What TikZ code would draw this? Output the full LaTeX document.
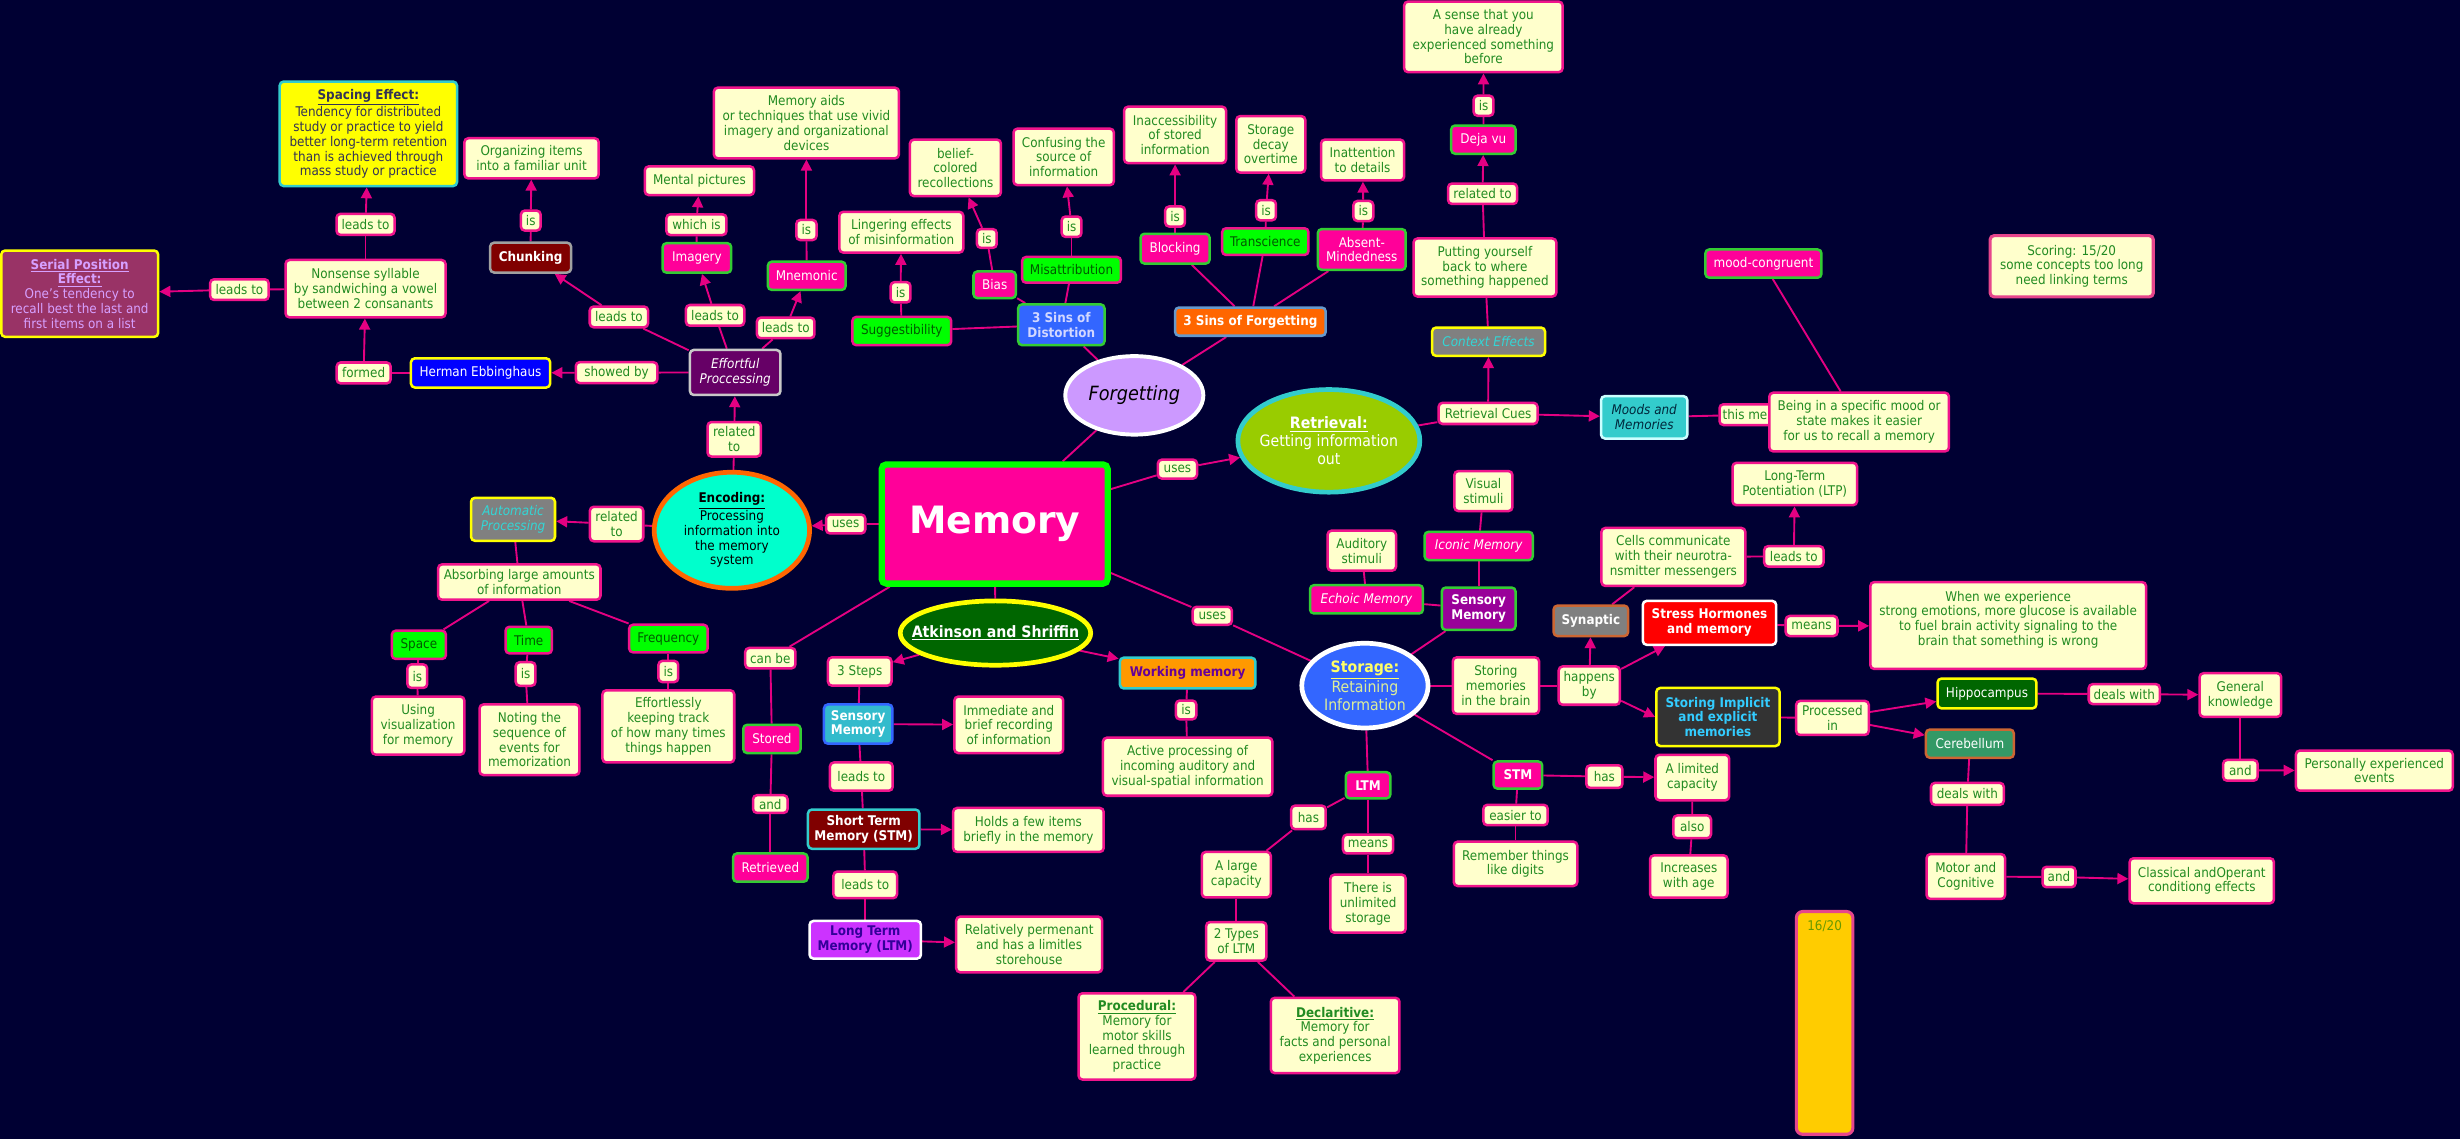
\documentclass[tikz,border=0pt]{standalone}
\usepackage{fontspec}
\IfFontExistsTF{DejaVu Sans Condensed}{\setmainfont{DejaVu Sans Condensed}}{\setmainfont[FakeStretch=0.9]{DejaVu Sans}}
\newfontfamily\memfont{DejaVu Sans}
\usetikzlibrary{shapes.geometric,arrows.meta}
\definecolor{bgc}{RGB}{0,0,51}
\definecolor{pinkc}{RGB}{255,0,153}
\definecolor{lnc}{RGB}{228,0,130}
\definecolor{pinkb}{RGB}{240,20,140}
\definecolor{creamc}{RGB}{255,255,204}
\definecolor{txtg}{RGB}{34,139,34}
\definecolor{brdg}{RGB}{51,204,51}
\definecolor{limec}{RGB}{0,255,0}
\definecolor{dkg}{RGB}{0,90,0}
\definecolor{yellowc}{RGB}{255,255,0}
\definecolor{cyanb}{RGB}{51,204,204}
\definecolor{slate}{RGB}{51,51,85}
\definecolor{serialc}{RGB}{153,51,102}
\definecolor{lpurp}{RGB}{214,160,255}
\definecolor{purpc}{RGB}{102,0,102}
\definecolor{lgray}{RGB}{200,200,200}
\definecolor{maroonc}{RGB}{128,0,0}
\definecolor{grayb}{RGB}{160,160,160}
\definecolor{bluec}{RGB}{51,102,255}
\definecolor{lblue}{RGB}{210,215,255}
\definecolor{orangec}{RGB}{255,102,0}
\definecolor{sblue}{RGB}{102,153,204}
\definecolor{lavc}{RGB}{204,153,255}
\definecolor{retc}{RGB}{153,204,0}
\definecolor{grayc}{RGB}{128,128,128}
\definecolor{cyanc}{RGB}{51,214,214}
\definecolor{tealc}{RGB}{51,204,204}
\definecolor{lcyan}{RGB}{204,255,255}
\definecolor{dteal}{RGB}{0,40,60}
\definecolor{aquac}{RGB}{0,255,204}
\definecolor{dkgreenc}{RGB}{0,102,0}
\definecolor{sensc}{RGB}{51,187,204}
\definecolor{violc}{RGB}{204,51,255}
\definecolor{dblue}{RGB}{51,0,153}
\definecolor{orange2}{RGB}{255,153,0}
\definecolor{purptext}{RGB}{102,0,153}
\definecolor{storetxt}{RGB}{221,238,153}
\definecolor{yellow2}{RGB}{255,255,102}
\definecolor{purp2}{RGB}{153,0,153}
\definecolor{orangeb}{RGB}{204,102,51}
\definecolor{redc}{RGB}{255,0,0}
\definecolor{dgray}{RGB}{51,51,51}
\definecolor{cyan2}{RGB}{51,204,255}
\definecolor{cerc}{RGB}{51,153,102}
\definecolor{goldc}{RGB}{255,204,0}
\definecolor{softpink}{RGB}{230,70,140}
\definecolor{olivec}{RGB}{102,153,0}
\newcommand\myfs{\fontsize{8.5pt}{9.4pt}\selectfont}
\pgfdeclarelayer{bgl}
\pgfdeclarelayer{edgel}
\pgfsetlayers{bgl,edgel,main}
\tikzset{
 nb/.style={rounded corners=2.5pt, line width=1.6pt, align=center, inner sep=1pt, font=\myfs},
 cb/.style={nb, draw=pinkb, fill=creamc, text=txtg},
 pk/.style={nb, draw=brdg, fill=pinkc, text=white},
 gr/.style={nb, draw=pinkb, fill=limec, text=dkg},
 sz/.style 2 args={minimum width=#1pt, minimum height=#2pt},
 ln/.style={draw=lnc, line width=1.2pt},
 ar/.style={ln, -{Triangle[length=7pt,width=7pt]}},
}
\begin{document}
\begin{tikzpicture}[x=1pt,y=-1pt]
\begin{pgfonlayer}{bgl}
\fill[bgc] (0,0) rectangle (1568,726);
\end{pgfonlayer}
\useasboundingbox (0,0) rectangle (1568,726);

% ---------- top left ----------
\node[nb,sz={113}{66.6},fill=yellowc,draw=cyanb,text=slate] (spacing) at (234.8,85.3) {\underline{\textbf{Spacing Effect:}}\\Tendency for distributed\\study or practice to yield\\better long-term retention\\than is achieved through\\mass study or practice};
\node[cb,sz={37}{13.4}] (lt1) at (233,143) {leads to};
\node[cb,sz={102}{36.6}] (nons) at (233,184) {Nonsense syllable\\by sandwiching a vowel\\between 2 consanants};
\node[nb,sz={100}{55},fill=serialc,draw=yellowc,text=lpurp] (serial) at (50.8,187.2) {\underline{\textbf{Serial Position}}\\\underline{\textbf{Effect:}}\\One's tendency to\\recall best the last and\\first items on a list};
\node[cb,sz={37.3}{13.2}] (lt2) at (152.6,184.6) {leads to};
\node[cb,sz={34.4}{13.3}] (formed) at (231.8,237.7) {formed};
\node[nb,sz={88.7}{18.6},fill=blue,draw=yellowc,text=white] (herman) at (306.3,237.7) {Herman Ebbinghaus};
\node[cb,sz={52}{13.3}] (showed) at (393,237.5) {showed by};
\node[nb,sz={57.7}{28.7},fill=purpc,draw=lgray,text=white,font=\myfs\itshape] (effort) at (468.6,237.4) {Effortful\\Proccessing};
\node[nb,sz={51.6}{19},fill=maroonc,draw=grayb,text=white,font=\myfs\bfseries] (chunk) at (338.2,164.2) {Chunking};
\node[cb,sz={12.6}{12.7}] (is1) at (338.3,140.6) {is};
\node[cb,sz={85.6}{25.6}] (organ) at (338.8,100.9) {Organizing items\\into a familiar unit};
\node[cb,sz={37.2}{13.2}] (lt3) at (394.5,202) {leads to};
\node[pk,sz={43.7}{18.8}] (imag) at (444.2,164.4) {Imagery};
\node[cb,sz={38.3}{13.2}] (which) at (443.9,143.2) {which is};
\node[cb,sz={69.6}{18.3}] (mental) at (445.8,115.2) {Mental pictures};
\node[cb,sz={37.2}{13.2}] (lt4) at (455.8,201) {leads to};
\node[pk,sz={49.5}{18}] (mnem) at (514.2,175.8) {Mnemonic};
\node[cb,sz={36.7}{13.1}] (lt5) at (500.8,209) {leads to};
\node[cb,sz={12.9}{12.8}] (is2) at (514,146.6) {is};
\node[cb,sz={118}{45}] (aids) at (514,78.4) {Memory aids\\or techniques that use vivid\\imagery and organizational\\devices};

% ---------- forgetting ----------
\node[gr,sz={63}{18}] (sugg) at (574.8,211) {Suggestibility};
\node[cb,sz={12.6}{13}] (is3) at (574,186.3) {is};
\node[cb,sz={79}{26}] (ling) at (574.5,148) {Lingering effects\\of misinformation};
\node[pk,sz={27}{17}] (bias) at (634,181.5) {Bias};
\node[cb,sz={12.6}{12}] (is4) at (629,152) {is};
\node[cb,sz={58}{36}] (belief) at (609,107) {belief-\\colored\\recollections};
\node[gr,sz={63}{16.4}] (misat) at (683,172) {Misattribution};
\node[cb,sz={12.6}{13}] (is5) at (683,144.5) {is};
\node[cb,sz={64}{36}] (confus) at (678,100) {Confusing the\\source of\\information};
\node[nb,sz={55}{26},fill=bluec,draw=brdg,text=lblue,font=\myfs\bfseries] (dist) at (676.5,207) {3 Sins of\\Distortion};
\node[pk,sz={44}{19}] (block) at (749,158.5) {Blocking};
\node[cb,sz={12.6}{12.8}] (is6) at (749,138) {is};
\node[cb,sz={65}{36}] (inacc) at (749,86) {Inaccessibility\\of stored\\information};
\node[gr,sz={55}{17}] (trans) at (806.5,154) {Transcience};
\node[cb,sz={12.6}{12.8}] (is7) at (807,134) {is};
\node[cb,sz={44}{36}] (decay) at (810,92) {Storage\\decay\\overtime};
\node[pk,sz={56}{26}] (absent) at (868,159) {Absent-\\Mindedness};
\node[cb,sz={12.6}{12.8}] (is8) at (869,134.5) {is};
\node[cb,sz={53}{26}] (inatt) at (868.5,102) {Inattention\\to details};
\node[nb,sz={96}{18},fill=orangec,draw=sblue,text=white,font=\myfs\bfseries] (sinf) at (797,205) {3 Sins of Forgetting};
\node[nb,ellipse,sz={88}{50},inner xsep=-4pt,fill=lavc,draw=white,line width=2.5pt,text=black,font=\fontsize{12.5pt}{14pt}\selectfont\itshape] (forg) at (723,252) {Forgetting};

% ---------- retrieval ----------
\node[nb,ellipse,sz={116}{65.4},inner xsep=-5pt,inner ysep=0pt,fill=retc,draw=cyanb,line width=3pt,text=white,font=\fontsize{10pt}{11.5pt}\selectfont] (retr) at (847,281) {\underline{\textbf{Retrieval:}}\\Getting information\\out};
\node[cb,sz={25}{12}] (uses1) at (750.5,299) {uses};
\node[cb,sz={63}{13.5}] (cues) at (948.5,263.5) {Retrieval Cues};
\node[nb,sz={72}{18},fill=grayc,draw=yellowc,text=cyanc,font=\myfs\itshape] (context) at (948.8,217.8) {Context Effects};
\node[cb,sz={91}{37}] (putting) at (946.5,170.5) {Putting yourself\\back to where\\something happened};
\node[cb,sz={44}{13}] (rel1) at (945,123.5) {related to};
\node[pk,sz={41}{18}] (deja) at (945.5,89) {Deja vu};
\node[cb,sz={12.6}{12.8}] (is9) at (945.6,67.4) {is};
\node[cb,sz={101}{45}] (sense) at (945.5,23.5) {A sense that you\\have already\\experienced something\\before};
\node[nb,sz={55}{27},fill=tealc,draw=lcyan,text=dteal,font=\myfs\itshape] (moods) at (1048,266) {Moods and\\Memories};
\node[cb,sz={46}{13.2}] (thism) at (1119,264.3) {this means};
\node[cb,sz={114.5}{37.4}] (being) at (1185,269) {Being in a specific mood or\\state makes it easier\\for us to recall a memory};
\node[pk,sz={74}{18}] (moodc) at (1124,168) {mood-congruent};
\node[cb,sz={79.4}{27}] (ltp) at (1144,308.5) {Long-Term\\Potentiation (LTP)};
\node[nb,sz={104}{39},fill=creamc,draw=softpink,text=txtg,line width=2pt] (score) at (1320.5,169.7) {Scoring: 15/20\\some concepts too long\\need linking terms};

% ---------- memory + encoding ----------
\node[nb,sz={144}{76},fill=pinkc,draw=limec,line width=4pt,rounded corners=3pt,text=white,font={\memfont\fontsize{24pt}{26pt}\selectfont\bfseries}] (mem) at (634,334) {Memory};
\node[nb,ellipse,sz={99}{74},fill=aquac,draw=orangec,line width=3pt,text=black] (enc) at (466.5,338) {\underline{\textbf{Encoding:}}\\Processing\\information into\\the memory\\system};
\node[cb,sz={25}{12}] (uses2) at (539,334) {uses};
\node[cb,sz={34}{22}] (rel2) at (393,334) {related\\to};
\node[cb,sz={34}{22}] (rel3) at (468,280) {related\\to};
\node[nb,sz={53.5}{27.4},fill=grayc,draw=yellowc,text=cyanc,font=\myfs\itshape] (auto) at (327,331) {Automatic\\Processing};
\node[cb,sz={103.5}{22.5}] (absorb) at (331,371) {Absorbing large amounts\\of information};
\node[gr,sz={34.5}{18}] (space) at (267,411) {Space};
\node[cb,sz={12.6}{15}] (is10) at (266,431) {is};
\node[cb,sz={59}{37}] (usingv) at (266.5,462.5) {Using\\visualization\\for memory};
\node[gr,sz={29.5}{17}] (time) at (337,408) {Time};
\node[cb,sz={12.6}{15}] (is11) at (335,429.6) {is};
\node[cb,sz={63.7}{45}] (noting) at (337.5,471.5) {Noting the\\sequence of\\events for\\memorization};
\node[gr,sz={50}{17.6}] (freq) at (426,407) {Frequency};
\node[cb,sz={12.6}{13.5}] (is12) at (426,428) {is};
\node[cb,sz={84}{46}] (effl) at (426,463) {Effortlessly\\keeping track\\of how many times\\things happen};

% ---------- Atkinson ----------
\node[cb,sz={32}{13}] (canbe) at (491,419.5) {can be};
\node[pk,sz={36.5}{18}] (stored) at (492,471) {Stored};
\node[cb,sz={22}{11.3}] (and1) at (491,512.5) {and};
\node[pk,sz={47.5}{18}] (retrv) at (491,553) {Retrieved};
\node[nb,ellipse,sz={121.4}{41},inner xsep=-12pt,inner ysep=0pt,fill=dkgreenc,draw=yellowc,line width=3pt,text=white,font=\fontsize{10pt}{12pt}\selectfont\bfseries] (atk) at (634.5,403.5) {\underline{Atkinson and Shriffin}};
\node[cb,sz={40.5}{18}] (steps) at (548,428) {3 Steps};
\node[nb,sz={43.6}{25},fill=sensc,draw=bluec,text=white,font=\myfs\bfseries] (sensA) at (547,461.5) {Sensory\\Memory};
\node[cb,sz={69.4}{36}] (immed) at (643,462) {Immediate and\\brief recording\\of information};
\node[cb,sz={40}{18}] (lt6) at (549,495) {leads to};
\node[nb,sz={71}{25},fill=maroonc,draw=cyanb,text=white,font=\myfs\bfseries] (stmA) at (550.5,528.5) {Short Term\\Memory (STM)};
\node[cb,sz={96}{28}] (holds) at (655.5,529) {Holds a few items\\briefly in the memory};
\node[cb,sz={40.5}{17}] (lt7) at (551.5,564) {leads to};
\node[nb,sz={71}{24},fill=violc,draw=white,text=dblue,font=\myfs\bfseries] (ltmA) at (551.5,599) {Long Term\\Memory (LTM)};
\node[cb,sz={93}{35.5}] (relperm) at (656,602) {Relatively permenant\\and has a limitles\\storehouse};
\node[nb,sz={86.4}{19.6},fill=orange2,draw=cyanb,text=purptext,font=\myfs\bfseries] (work) at (757,429) {Working memory};
\node[cb,sz={13}{12}] (is13) at (756,452.5) {is};
\node[cb,sz={108}{37}] (active) at (757,488.7) {Active processing of\\incoming auditory and\\visual-spatial information};

% ---------- storage ----------
\node[cb,sz={25}{11.5}] (uses3) at (772.7,392.5) {uses};
\node[nb,ellipse,sz={80.5}{54},inner xsep=-2pt,inner ysep=0pt,fill=bluec,draw=white,line width=3pt,text=storetxt,font=\fontsize{10pt}{11.5pt}\selectfont] (stor) at (870,437) {{\color{yellow2}\underline{\textbf{Storage:}}}\\Retaining\\Information};
\node[pk,sz={28.4}{16.7},font=\myfs\bfseries] (ltmS) at (872,500.5) {LTM};
\node[cb,sz={22}{15}] (has1) at (834,521) {has};
\node[cb,sz={32}{12}] (means1) at (872,538) {means};
\node[cb,sz={48}{37}] (unlim) at (872,576) {There is\\unlimited\\storage};
\node[cb,sz={44}{29}] (large) at (788,557.5) {A large\\capacity};
\node[cb,sz={38.4}{24.6}] (types) at (788,600) {2 Types\\of LTM};
\node[cb,sz={74.5}{55}] (proc) at (724.7,660.6) {\underline{\textbf{Procedural:}}\\Memory for\\motor skills\\learned through\\practice};
\node[cb,sz={82}{48}] (decl) at (851,660) {\underline{\textbf{Declaritive:}}\\Memory for\\facts and personal\\experiences};
\node[pk,sz={31}{17.3},font=\myfs\bfseries] (stmS) at (967.5,494) {STM};
\node[cb,sz={23}{14.4}] (has2) at (1022.6,495) {has};
\node[cb,sz={47}{29}] (limit) at (1078.7,495.6) {A limited\\capacity};
\node[cb,sz={24}{14.5}] (also) at (1078.6,527) {also};
\node[cb,sz={49.4}{27}] (incr) at (1076.4,558.7) {Increases\\with age};
\node[cb,sz={41}{13}] (easier) at (966,519.5) {easier to};
\node[cb,sz={78.7}{28.3}] (remem) at (966,550.6) {Remember things\\like digits};
\node[nb,sz={47}{27},fill=purp2,draw=brdg,text=white,font=\myfs\bfseries] (sensS) at (942.5,388) {Sensory\\Memory};
\node[pk,sz={72}{18},font=\myfs\itshape] (echo) at (871,382) {Echoic Memory};
\node[pk,sz={69}{18},font=\myfs\itshape] (icon) at (942.5,348) {Iconic Memory};
\node[cb,sz={43.6}{25.5}] (audit) at (868,351) {Auditory\\stimuli};
\node[cb,sz={37}{25.5}] (visual) at (945.5,313) {Visual\\stimuli};
\node[cb,sz={55}{36}] (storing) at (953.5,437) {Storing\\memories\\in the brain};
\node[cb,sz={39}{24.4}] (happ) at (1013,437) {happens\\by};
\node[nb,sz={47.5}{19.4},fill=grayc,draw=orangeb,text=white,font=\myfs\bfseries] (syn) at (1014,395.7) {Synaptic};
\node[cb,sz={91.7}{37}] (cells) at (1066.6,355) {Cells communicate\\with their neurotra-\\nsmitter messengers};
\node[cb,sz={37.8}{13}] (lt8) at (1143.4,354.6) {leads to};
\node[nb,sz={85}{28},fill=redc,draw=white,text=white,font=\myfs\bfseries] (stress) at (1089.6,397) {Stress Hormones\\and memory};
\node[cb,sz={33}{12.8}] (means2) at (1154.7,399) {means};
\node[cb,sz={175.7}{55.4}] (when) at (1280,398.7) {When we experience\\strong emotions, more glucose is available\\to fuel brain activity signaling to the\\brain that something is wrong\\\mbox{}};
\node[nb,sz={78.5}{37},fill=dgray,draw=yellowc,text=cyan2,font=\myfs\bfseries] (impl) at (1095,457) {Storing Implicit\\and explicit\\memories};
\node[cb,sz={46.3}{21.7}] (procin) at (1168,457.6) {Processed\\in};
\node[nb,sz={63}{19},fill=dkgreenc,draw=yellowc,text=white] (hippo) at (1266.5,442) {Hippocampus};
\node[cb,sz={45.3}{12.7}] (deal1) at (1354,442.4) {deals with};
\node[cb,sz={52}{27.8}] (gen) at (1428,443) {General\\knowledge};
\node[cb,sz={22}{13.2}] (and2) at (1428,491) {and};
\node[cb,sz={100}{25.6}] (pers) at (1513.4,491.2) {Personally experienced\\events};
\node[nb,sz={56}{18},fill=cerc,draw=orangeb,text=white] (cereb) at (1255.6,474) {Cerebellum};
\node[cb,sz={46.4}{14}] (deal2) at (1254,506) {deals with};
\node[cb,sz={50}{28.6}] (motor) at (1253,558.7) {Motor and\\Cognitive};
\node[cb,sz={21}{13}] (and3) at (1312.4,559) {and};
\node[cb,sz={92}{28.7}] (class) at (1403.4,561.4) {Classical andOperant\\conditiong effects};
\node[nb,sz={36}{142},fill=goldc,draw=softpink,line width=2pt,rounded corners=4pt] (bar) at (1163,652) {};
\node[font=\myfs,text=olivec,inner sep=0pt] (bartxt) at (1163,590.6) {16/20};

% ---------- connectors ----------
\begin{pgfonlayer}{edgel}
\draw[ln] (effort) -- (showed); \draw[ar] (showed) -- (herman);
\draw[ln] (herman) -- (formed); \draw[ar] (formed) -- (nons);
\draw[ln] (nons) -- (lt1); \draw[ar] (lt1) -- (spacing);
\draw[ln] (nons) -- (lt2); \draw[ar] (lt2) -- (serial);
\draw[ln] (effort) -- (lt3); \draw[ar] (lt3) -- (chunk);
\draw[ln] (chunk) -- (is1); \draw[ar] (is1) -- (organ);
\draw[ln] (effort) -- (lt4); \draw[ar] (lt4) -- (imag);
\draw[ln] (imag) -- (which); \draw[ar] (which) -- (mental);
\draw[ln] (effort) -- (lt5); \draw[ar] (lt5) -- (mnem);
\draw[ln] (mnem) -- (is2); \draw[ar] (is2) -- (aids);
\draw[ln] (enc) -- (rel3); \draw[ar] (rel3) -- (effort);
\draw[ln] (mem) -- (uses2); \draw[ar] (uses2) -- (enc);
\draw[ln] (enc) -- (rel2); \draw[ar] (rel2) -- (auto);
\draw[ln] (auto) -- (absorb);
\draw[ln] (absorb) -- (space); \draw[ln] (absorb) -- (time); \draw[ln] (absorb) -- (freq);
\draw[ln] (space) -- (is10); \draw[ln] (is10) -- (usingv);
\draw[ln] (time) -- (is11); \draw[ln] (is11) -- (noting);
\draw[ln] (freq) -- (is12); \draw[ln] (is12) -- (effl);
\draw[ln] (mem) -- (canbe); \draw[ln] (canbe) -- (stored);
\draw[ln] (stored) -- (and1); \draw[ln] (and1) -- (retrv);
\draw[ln] (mem) -- (atk);
\draw[ar] (atk) -- (steps); \draw[ar] (atk) -- (work);
\draw[ln] (steps) -- (sensA); \draw[ar] (sensA) -- (immed);
\draw[ln] (sensA) -- (lt6); \draw[ln] (lt6) -- (stmA); \draw[ar] (stmA) -- (holds);
\draw[ln] (stmA) -- (lt7); \draw[ln] (lt7) -- (ltmA); \draw[ar] (ltmA) -- (relperm);
\draw[ln] (work) -- (is13); \draw[ln] (is13) -- (active);
\draw[ln] (mem) -- (uses3); \draw[ln] (uses3) -- (stor);
\draw[ln] (mem) -- (uses1); \draw[ar] (uses1) -- (retr);
\draw[ln] (mem) -- (forg);
\draw[ln] (forg) -- (dist); \draw[ln] (forg) -- (sinf);
\draw[ln] (dist) -- (sugg); \draw[ln] (dist) -- (bias); \draw[ln] (dist) -- (misat);
\draw[ln] (sugg) -- (is3); \draw[ar] (is3) -- (ling);
\draw[ln] (bias) -- (is4); \draw[ar] (is4) -- (belief);
\draw[ln] (misat) -- (is5); \draw[ar] (is5) -- (confus);
\draw[ln] (sinf) -- (block); \draw[ln] (sinf) -- (trans); \draw[ln] (sinf) -- (absent);
\draw[ln] (block) -- (is6); \draw[ar] (is6) -- (inacc);
\draw[ln] (trans) -- (is7); \draw[ar] (is7) -- (decay);
\draw[ln] (absent) -- (is8); \draw[ar] (is8) -- (inatt);
\draw[ln] (retr) -- (cues); \draw[ar] (cues) -- (context); \draw[ar] (cues) -- (moods);
\draw[ln] (context) -- (putting); \draw[ln] (putting) -- (rel1); \draw[ar] (rel1) -- (deja);
\draw[ln] (deja) -- (is9); \draw[ar] (is9) -- (sense);
\draw[ln] (moods) -- (thism);
\draw[ln] (being) -- (moodc);
\draw[ln] (stor) -- (ltmS); \draw[ln] (ltmS) -- (has1); \draw[ln] (has1) -- (large);
\draw[ln] (large) -- (types); \draw[ln] (types) -- (proc); \draw[ln] (types) -- (decl);
\draw[ln] (ltmS) -- (means1); \draw[ln] (means1) -- (unlim);
\draw[ln] (stor) -- (stmS); \draw[ln] (stmS) -- (has2); \draw[ar] (has2) -- (limit);
\draw[ln] (limit) -- (also); \draw[ln] (also) -- (incr);
\draw[ln] (stmS) -- (easier); \draw[ln] (easier) -- (remem);
\draw[ln] (stor) -- (sensS); \draw[ln] (sensS) -- (echo); \draw[ln] (sensS) -- (icon);
\draw[ln] (echo) -- (audit); \draw[ln] (icon) -- (visual);
\draw[ln] (stor) -- (storing); \draw[ln] (storing) -- (happ);
\draw[ar] (happ) -- (syn); \draw[ar] (happ) -- (stress); \draw[ar] (happ) -- (impl.west);
\draw[ln] (syn) -- (cells); \draw[ln] (cells) -- (lt8); \draw[ar] (lt8) -- (ltp);
\draw[ln] (stress) -- (means2); \draw[ar] (means2) -- (when);
\draw[ln] (impl) -- (procin); \draw[ar] (procin) -- (hippo); \draw[ar] (procin) -- (cereb);
\draw[ln] (hippo) -- (deal1); \draw[ar] (deal1) -- (gen);
\draw[ln] (gen) -- (and2); \draw[ar] (and2) -- (pers);
\draw[ln] (cereb) -- (deal2); \draw[ln] (deal2) -- (motor);
\draw[ln] (motor) -- (and3); \draw[ar] (and3) -- (class);
\end{pgfonlayer}
\end{tikzpicture}
\end{document}
